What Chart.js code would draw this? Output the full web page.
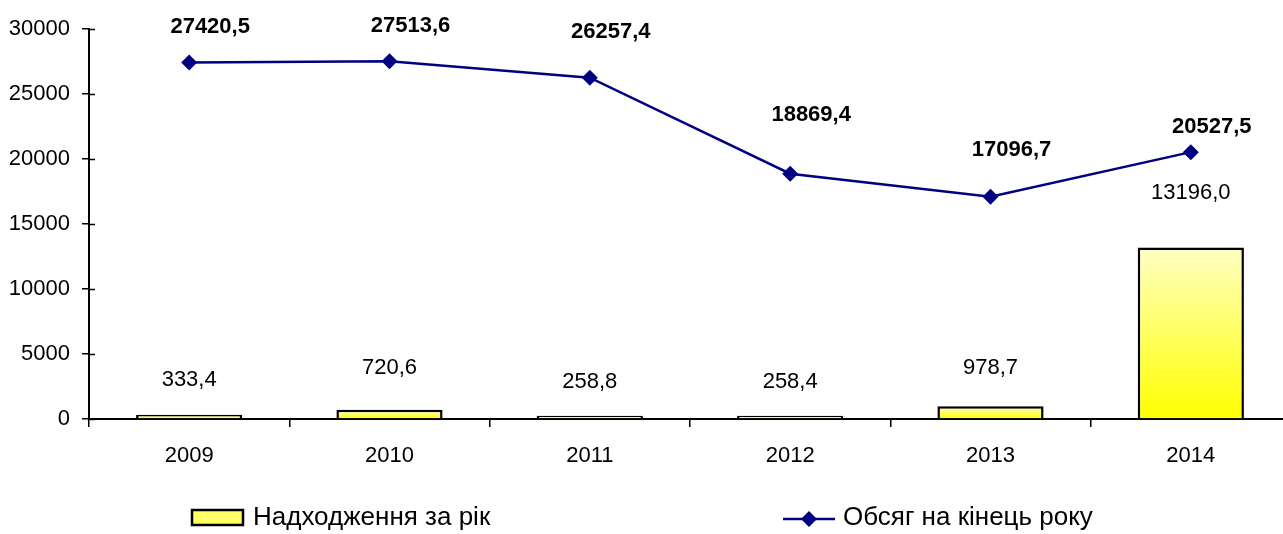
<!DOCTYPE html>
<html>
<head>
<meta charset="utf-8">
<script src="https://cdn.jsdelivr.net/npm/chart.js@4.4.1/dist/chart.umd.min.js"></script>
<style>
  html, body { margin: 0; padding: 0; background: #fff; overflow: hidden; }
  /* the plot runs a little past the right edge of the window, as in the original */
  #wrap { width: 1300px; height: 534px; position: relative; }
</style>
</head>
<body>
<div id="wrap"><canvas id="c"></canvas></div>
<script>
// Data
const years   = ['2009', '2010', '2011', '2012', '2013', '2014'];
const inflow  = [333.4, 720.6, 258.8, 258.4, 978.7, 13196.0];        // Надходження за рік
const volume  = [27420.5, 27513.6, 26257.4, 18869.4, 17096.7, 20527.5]; // Обсяг на кінець року
const yTicks  = [0, 5000, 10000, 15000, 20000, 25000, 30000];
const legendNames = ['Надходження за рік', 'Обсяг на кінець року'];

// Label placement (pixels above the mark), kept apart from the data
const barLift  = [35, 42, 34, 34, 38, 55];
const lineLift = [36, 35, 46, 59, 47, 25];
const lineShiftX = 21;

const FONT = '"Liberation Sans", Arial, sans-serif';
const NAVY = '#000080';

// comma as decimal separator, as in the source
function fmt(v) {
  return v.toFixed(1).replace('.', ',');
}

// per-bar vertical gradient, pale at the top, full yellow at the base
function barFill(ctx) {
  const chart = ctx.chart;
  if (!chart.chartArea || ctx.type !== 'data') return '#ffff00';
  const ys = chart.scales.y;
  const top = ys.getPixelForValue(ctx.raw);
  const bot = ys.getPixelForValue(0);
  const g = chart.ctx.createLinearGradient(0, top, 0, bot);
  g.addColorStop(0, '#ffffc4');
  g.addColorStop(1, '#ffff00');
  return g;
}

// value labels over bars and over line points
const valueLabels = {
  id: 'valueLabels',
  afterDatasetsDraw(chart) {
    const c = chart.ctx;
    c.save();
    c.fillStyle = '#000';
    c.textAlign = 'center';
    c.textBaseline = 'middle';

    c.font = '22px ' + FONT;
    chart.getDatasetMeta(1).data.forEach((el, i) => {
      c.fillText(fmt(inflow[i]), el.x, el.y - barLift[i]);
    });

    c.font = 'bold 22px ' + FONT;
    chart.getDatasetMeta(0).data.forEach((el, i) => {
      c.fillText(fmt(volume[i]), el.x + lineShiftX, el.y - lineLift[i]);
    });
    c.restore();
  }
};

// small tick stubs on the inner side of the value axis
const innerTicks = {
  id: 'innerTicks',
  afterDraw(chart) {
    const c = chart.ctx;
    const ys = chart.scales.y;
    const x0 = chart.chartArea.left;
    c.save();
    c.strokeStyle = '#000';
    c.lineWidth = 1.5;
    c.beginPath();
    yTicks.forEach(t => {
      const y = Math.round(ys.getPixelForValue(t)) + 0.5;
      c.moveTo(x0, y);
      c.lineTo(x0 + 6, y);
    });
    c.stroke();
    c.restore();
  }
};

// legend at the bottom: yellow box, then navy line with diamond
const bottomLegend = {
  id: 'bottomLegend',
  afterDraw(chart) {
    const c = chart.ctx;
    const yMid = 518;
    c.save();

    // bar item
    c.fillStyle = '#ffff66';
    c.fillRect(192, 510, 51, 15);
    c.strokeStyle = '#000';
    c.lineWidth = 2.5;
    c.strokeRect(192, 510, 51, 15);

    // line item
    c.strokeStyle = NAVY;
    c.lineWidth = 2.5;
    c.beginPath();
    c.moveTo(783, yMid + 1);
    c.lineTo(835, yMid + 1);
    c.stroke();
    c.fillStyle = NAVY;
    c.beginPath();
    c.moveTo(809, yMid + 1 - 8);
    c.lineTo(817, yMid + 1);
    c.lineTo(809, yMid + 1 + 8);
    c.lineTo(801, yMid + 1);
    c.closePath();
    c.fill();

    c.fillStyle = '#000';
    c.font = '26px ' + FONT;
    c.textAlign = 'left';
    c.textBaseline = 'middle';
    c.fillText(legendNames[0], 253, yMid);
    c.fillText(legendNames[1], 843, yMid);
    c.restore();
  }
};

new Chart(document.getElementById('c'), {
  type: 'bar',
  data: {
    labels: years,
    datasets: [
      {
        type: 'line',
        label: legendNames[1],
        data: volume,
        borderColor: NAVY,
        borderWidth: 2.5,
        backgroundColor: NAVY,
        pointStyle: 'rectRot',
        pointRadius: 8,
        pointBorderWidth: 0,
        pointBackgroundColor: NAVY,
        tension: 0,
        fill: false,
        order: 0
      },
      {
        type: 'bar',
        label: legendNames[0],
        data: inflow,
        backgroundColor: barFill,
        borderColor: '#000',
        borderWidth: 2.5,
        barPercentage: 0.53,
        categoryPercentage: 1,
        order: 1
      }
    ]
  },
  options: {
    responsive: true,
    maintainAspectRatio: false,
    animation: false,
    layout: { padding: { left: 0, right: 9, top: 29, bottom: 55 } },
    plugins: {
      legend: { display: false },
      tooltip: { enabled: false }
    },
    scales: {
      x: {
        offset: true,
        afterFit(s) { s.height = 60; },
        grid: {
          offset: true,
          drawOnChartArea: false,
          drawTicks: true,
          tickLength: 8,
          color: '#000',
          lineWidth: 1.5
        },
        border: { display: true, color: '#000', width: 2 },
        ticks: {
          color: '#000',
          font: { family: FONT, size: 22 },
          padding: 16,
          maxRotation: 0
        }
      },
      y: {
        min: 0,
        max: 30000,
        afterFit(s) { s.width = 89; },
        afterBuildTicks(s) { s.ticks = yTicks.map(v => ({ value: v })); },
        grid: {
          drawOnChartArea: false,
          drawTicks: true,
          tickLength: 7,
          color: '#000',
          lineWidth: 1.5
        },
        border: { display: true, color: '#000', width: 2 },
        ticks: {
          color: '#000',
          font: { family: FONT, size: 22 },
          padding: 12,
          callback: v => String(v)
        }
      }
    }
  },
  plugins: [valueLabels, innerTicks, bottomLegend]
});
</script>
</body>
</html>
